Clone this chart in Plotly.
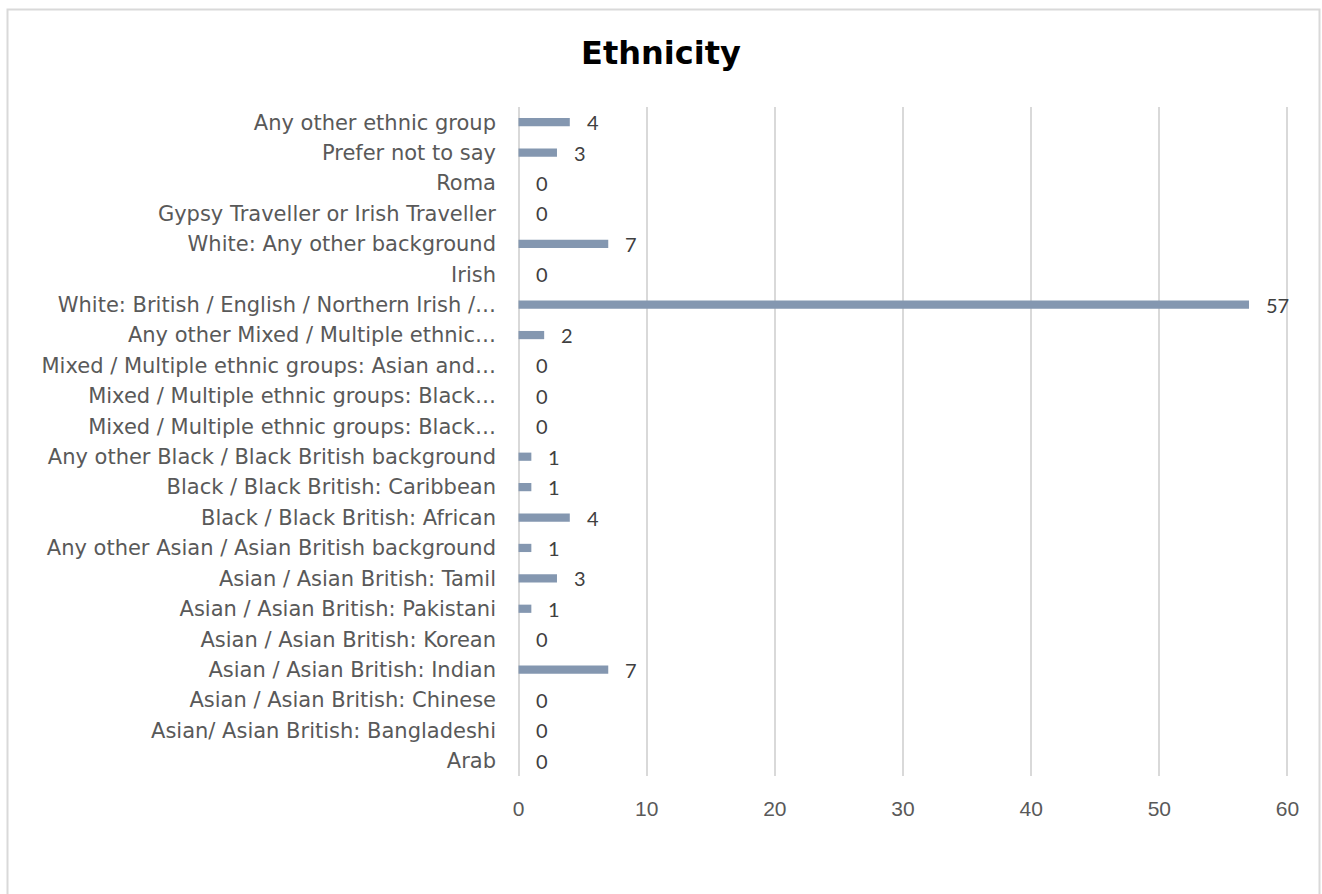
import plotly.graph_objects as go

# Ethnicity categories, listed bottom to top as drawn on the y axis
categories = [
    "Arab",
    "Asian/ Asian British: Bangladeshi",
    "Asian / Asian British: Chinese",
    "Asian / Asian British: Indian",
    "Asian / Asian British: Korean",
    "Asian / Asian British: Pakistani",
    "Asian / Asian British: Tamil",
    "Any other Asian / Asian British background",
    "Black / Black British: African",
    "Black / Black British: Caribbean",
    "Any other Black / Black British background",
    "Mixed / Multiple ethnic groups: Black…",
    "Mixed / Multiple ethnic groups: Black…",
    "Mixed / Multiple ethnic groups: Asian and…",
    "Any other Mixed / Multiple ethnic…",
    "White: British / English / Northern Irish /…",
    "Irish",
    "White: Any other background",
    "Gypsy Traveller or Irish Traveller",
    "Roma",
    "Prefer not to say",
    "Any other ethnic group",
]
counts = [0, 0, 0, 7, 0, 1, 3, 1, 4, 1, 1, 0, 0, 0, 2, 57, 0, 7, 0, 0, 3, 4]
x_ticks = [0, 10, 20, 30, 40, 50, 60]

positions = list(range(len(categories)))

W, H = 1322, 894
M_L, M_R, M_T, M_B = 517, 33, 107, 118

BAR = "#8497B0"
GRID = "#D9D9D9"
TXT = "#595959"
LABEL_FONT = "DejaVu Sans, Verdana, sans-serif"
TICK_FONT = "Liberation Sans, Arial, sans-serif"
VALUE_FONT = "Lato, Open Sans, sans-serif"

fig = go.Figure()
fig.add_trace(go.Bar(
    x=counts,
    y=positions,
    orientation="h",
    width=0.27,
    marker=dict(color=BAR, line=dict(width=0)),
    hoverinfo="x",
))

# value labels to the right of each bar
for p, v in zip(positions, counts):
    fig.add_annotation(
        x=v, y=p, xref="x", yref="y",
        text=str(v), showarrow=False,
        xanchor="left", yanchor="middle", xshift=15,
        font=dict(family=VALUE_FONT, size=20, color="#404040"),
    )

# light grey frame around the chart area
plot_w = W - M_L - M_R
plot_h = H - M_T - M_B
def px_x(px):
    return (px - M_L) / plot_w
def px_y(py):
    return (H - M_B - py) / plot_h

fig.add_shape(
    type="rect", xref="paper", yref="paper",
    x0=px_x(7.5), x1=px_x(1319.5), y0=px_y(905), y1=px_y(9.5),
    line=dict(color=GRID, width=2), fillcolor="rgba(0,0,0,0)", layer="below",
)

fig.update_layout(
    width=W, height=H,
    margin=dict(l=M_L, r=M_R, t=M_T, b=M_B),
    paper_bgcolor="white",
    plot_bgcolor="white",
    showlegend=False,
    title=dict(
        text="<b>Ethnicity</b>",
        x=0.5, xanchor="center",
        y=1 - 53 / H, yanchor="middle", yref="container",
        font=dict(family=LABEL_FONT, size=32, color="#000000"),
    ),
    xaxis=dict(
        range=[-0.12, 60.12],
        tickvals=x_ticks,
        ticktext=[str(t) for t in x_ticks],
        showgrid=True, gridcolor=GRID, gridwidth=1.5,
        zeroline=True, zerolinecolor=GRID, zerolinewidth=1.5,
        showline=False,
        ticks="", ticklabelstandoff=18,
        tickfont=dict(family=TICK_FONT, size=21, color=TXT),
    ),
    yaxis=dict(
        range=[-0.5, len(categories) - 0.5],
        tickvals=positions,
        ticktext=categories,
        showgrid=False, zeroline=False, showline=False,
        ticks="", ticklabelstandoff=20,
        tickfont=dict(family=LABEL_FONT, size=21, color=TXT),
    ),
)

fig.write_html("out.html")
